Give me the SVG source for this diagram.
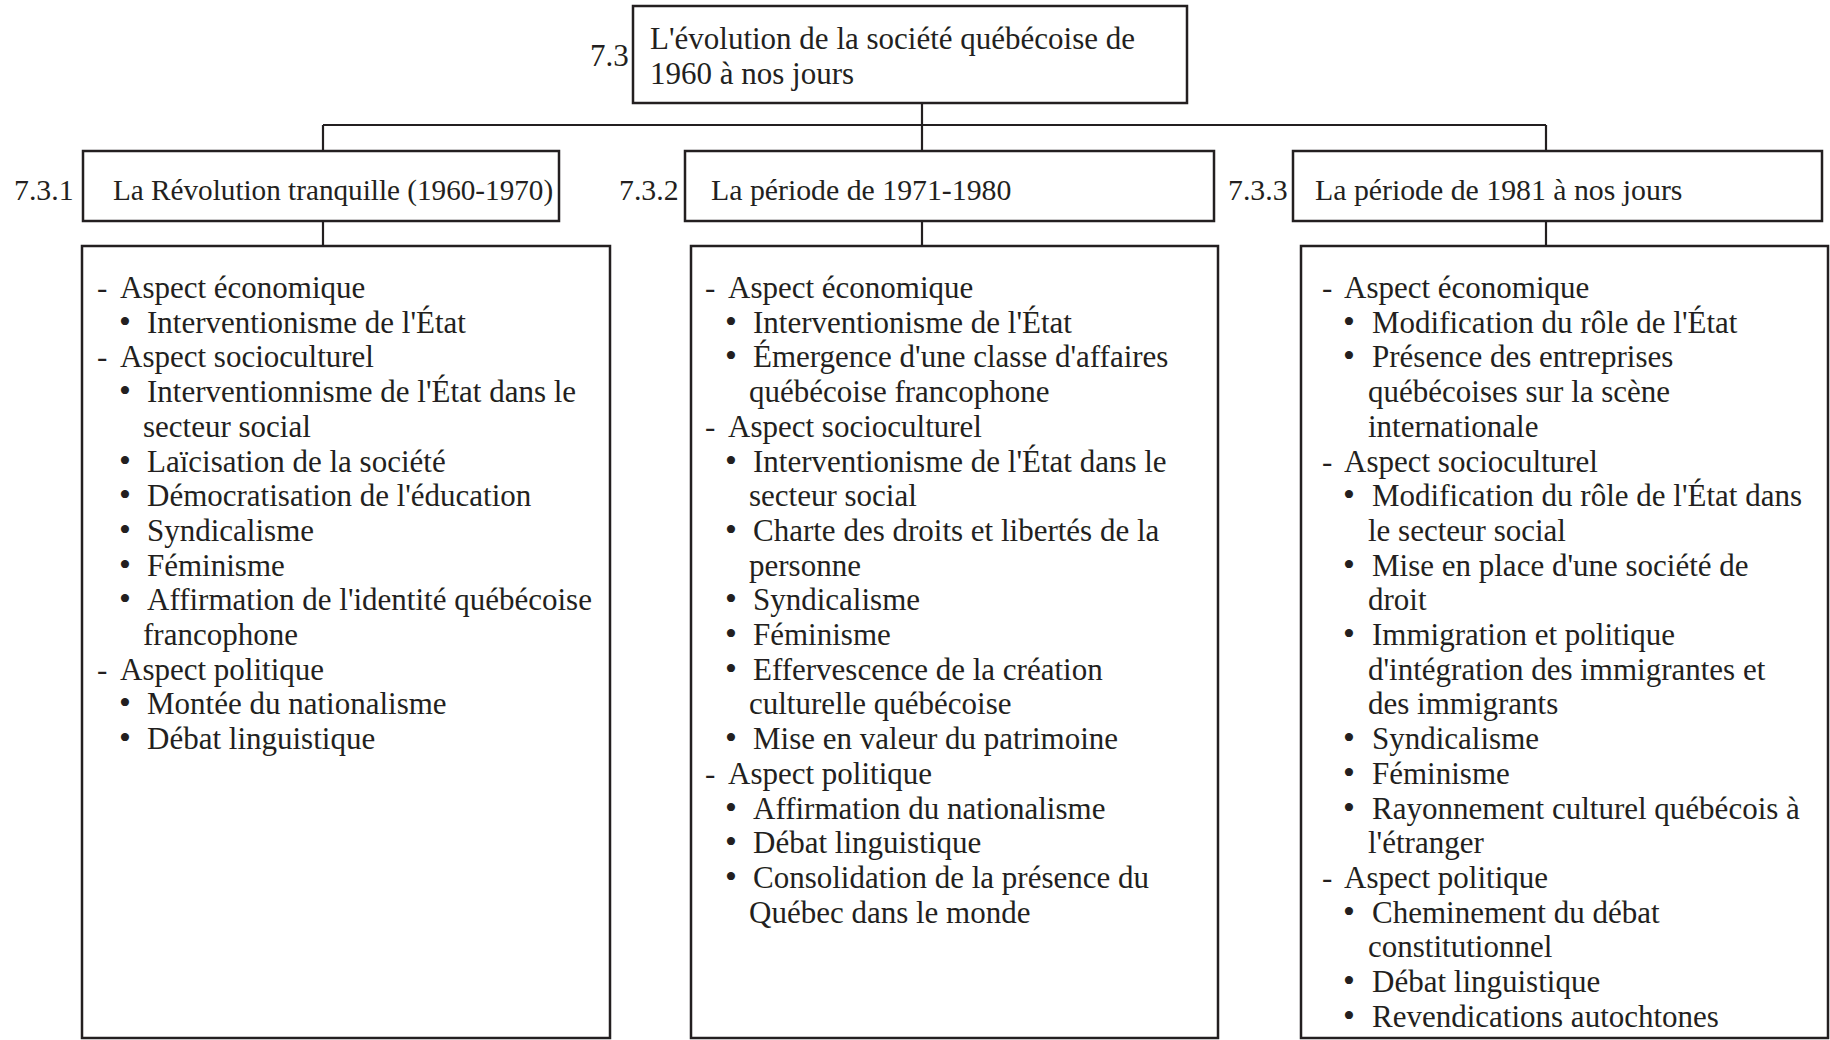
<svg xmlns="http://www.w3.org/2000/svg" width="1830" height="1040" viewBox="0 0 1830 1040">
<style>
.box{fill:#fff;stroke:#231f20;stroke-width:2.5}
.ln{fill:none;stroke:#231f20;stroke-width:2.2}
text{font-family:"Liberation Serif","Times New Roman",serif;font-size:31px;fill:#231f20}
.h2{font-size:29.8px}
.b{font-size:34px}
</style>
<rect width="1830" height="1040" fill="#fff"/>
<g id="connectors">
<path class="ln" d="M922,103 V125 M323,125 H1546 M323,125 V151 M922,125 V151 M1546,125 V151"/>
<path class="ln" d="M323,221 V246 M922,221 V246 M1546,221 V246"/>
</g>
<g id="n73">
<rect class="box" x="633" y="6" width="554" height="97"/>
<text x="590" y="66">7.3</text>
<text><tspan x="650" y="49">L'évolution de la société québécoise de</tspan><tspan x="650" y="84">1960 à nos jours</tspan></text>
</g>
<g id="n731">
<rect class="box" x="83" y="151" width="476" height="70"/>
<text class="h2" x="14" y="200">7.3.1</text>
<text class="h2" x="113" y="200" style="font-size:29.2px">La Révolution tranquille (1960-1970)</text>
</g>
<g id="n732">
<rect class="box" x="685" y="151" width="529" height="70"/>
<text class="h2" x="619" y="200">7.3.2</text>
<text class="h2" x="711" y="200">La période de 1971-1980</text>
</g>
<g id="n733">
<rect class="box" x="1293" y="151" width="529" height="70"/>
<text class="h2" x="1228" y="200">7.3.3</text>
<text class="h2" x="1315" y="200">La période de 1981 à nos jours</text>
</g>
<g id="d731">
<rect class="box" x="82" y="246" width="528" height="792"/>
<text>
<tspan x="97" y="298">-</tspan><tspan x="120" y="298">Aspect économique</tspan>
<tspan class="b" x="119" y="332.7">•</tspan><tspan x="147" y="332.7">Interventionisme de l'État</tspan>
<tspan x="97" y="367.4">-</tspan><tspan x="120" y="367.4">Aspect socioculturel</tspan>
<tspan class="b" x="119" y="402.1">•</tspan><tspan x="147" y="402.1">Interventionnisme de l'État dans le</tspan>
<tspan x="143" y="436.8">secteur social</tspan>
<tspan class="b" x="119" y="471.5">•</tspan><tspan x="147" y="471.5">Laïcisation de la société</tspan>
<tspan class="b" x="119" y="506.2">•</tspan><tspan x="147" y="506.2">Démocratisation de l'éducation</tspan>
<tspan class="b" x="119" y="540.9">•</tspan><tspan x="147" y="540.9">Syndicalisme</tspan>
<tspan class="b" x="119" y="575.6">•</tspan><tspan x="147" y="575.6">Féminisme</tspan>
<tspan class="b" x="119" y="610.3">•</tspan><tspan x="147" y="610.3">Affirmation de l'identité québécoise</tspan>
<tspan x="143" y="645">francophone</tspan>
<tspan x="97" y="679.7">-</tspan><tspan x="120" y="679.7">Aspect politique</tspan>
<tspan class="b" x="119" y="714.4">•</tspan><tspan x="147" y="714.4">Montée du nationalisme</tspan>
<tspan class="b" x="119" y="749.1">•</tspan><tspan x="147" y="749.1">Débat linguistique</tspan>
</text>
</g>
<g id="d732">
<rect class="box" x="691" y="246" width="527" height="792"/>
<text>
<tspan x="705" y="298">-</tspan><tspan x="728" y="298">Aspect économique</tspan>
<tspan class="b" x="725" y="332.7">•</tspan><tspan x="753" y="332.7">Interventionisme de l'État</tspan>
<tspan class="b" x="725" y="367.4">•</tspan><tspan x="753" y="367.4">Émergence d'une classe d'affaires</tspan>
<tspan x="749" y="402.1">québécoise francophone</tspan>
<tspan x="705" y="436.8">-</tspan><tspan x="728" y="436.8">Aspect socioculturel</tspan>
<tspan class="b" x="725" y="471.5">•</tspan><tspan x="753" y="471.5">Interventionisme de l'État dans le</tspan>
<tspan x="749" y="506.2">secteur social</tspan>
<tspan class="b" x="725" y="540.9">•</tspan><tspan x="753" y="540.9">Charte des droits et libertés de la</tspan>
<tspan x="749" y="575.6">personne</tspan>
<tspan class="b" x="725" y="610.3">•</tspan><tspan x="753" y="610.3">Syndicalisme</tspan>
<tspan class="b" x="725" y="645">•</tspan><tspan x="753" y="645">Féminisme</tspan>
<tspan class="b" x="725" y="679.7">•</tspan><tspan x="753" y="679.7">Effervescence de la création</tspan>
<tspan x="749" y="714.4">culturelle québécoise</tspan>
<tspan class="b" x="725" y="749.1">•</tspan><tspan x="753" y="749.1">Mise en valeur du patrimoine</tspan>
<tspan x="705" y="783.8">-</tspan><tspan x="728" y="783.8">Aspect politique</tspan>
<tspan class="b" x="725" y="818.5">•</tspan><tspan x="753" y="818.5">Affirmation du nationalisme</tspan>
<tspan class="b" x="725" y="853.2">•</tspan><tspan x="753" y="853.2">Débat linguistique</tspan>
<tspan class="b" x="725" y="887.9">•</tspan><tspan x="753" y="887.9">Consolidation de la présence du</tspan>
<tspan x="749" y="922.6">Québec dans le monde</tspan>
</text>
</g>
<g id="d733">
<rect class="box" x="1301" y="246" width="527" height="792"/>
<text>
<tspan x="1322" y="298">-</tspan><tspan x="1344" y="298">Aspect économique</tspan>
<tspan class="b" x="1343" y="332.7">•</tspan><tspan x="1372" y="332.7">Modification du rôle de l'État</tspan>
<tspan class="b" x="1343" y="367.4">•</tspan><tspan x="1372" y="367.4">Présence des entreprises</tspan>
<tspan x="1368" y="402.1">québécoises sur la scène</tspan>
<tspan x="1368" y="436.8">internationale</tspan>
<tspan x="1322" y="471.5">-</tspan><tspan x="1344" y="471.5">Aspect socioculturel</tspan>
<tspan class="b" x="1343" y="506.2">•</tspan><tspan x="1372" y="506.2">Modification du rôle de l'État dans</tspan>
<tspan x="1368" y="540.9">le secteur social</tspan>
<tspan class="b" x="1343" y="575.6">•</tspan><tspan x="1372" y="575.6">Mise en place d'une société de</tspan>
<tspan x="1368" y="610.3">droit</tspan>
<tspan class="b" x="1343" y="645">•</tspan><tspan x="1372" y="645">Immigration et politique</tspan>
<tspan x="1368" y="679.7">d'intégration des immigrantes et</tspan>
<tspan x="1368" y="714.4">des immigrants</tspan>
<tspan class="b" x="1343" y="749.1">•</tspan><tspan x="1372" y="749.1">Syndicalisme</tspan>
<tspan class="b" x="1343" y="783.8">•</tspan><tspan x="1372" y="783.8">Féminisme</tspan>
<tspan class="b" x="1343" y="818.5">•</tspan><tspan x="1372" y="818.5">Rayonnement culturel québécois à</tspan>
<tspan x="1368" y="853.2">l'étranger</tspan>
<tspan x="1322" y="887.9">-</tspan><tspan x="1344" y="887.9">Aspect politique</tspan>
<tspan class="b" x="1343" y="922.6">•</tspan><tspan x="1372" y="922.6">Cheminement du débat</tspan>
<tspan x="1368" y="957.3">constitutionnel</tspan>
<tspan class="b" x="1343" y="992">•</tspan><tspan x="1372" y="992">Débat linguistique</tspan>
<tspan class="b" x="1343" y="1026.7">•</tspan><tspan x="1372" y="1026.7">Revendications autochtones</tspan>
</text>
</g>
</svg>
